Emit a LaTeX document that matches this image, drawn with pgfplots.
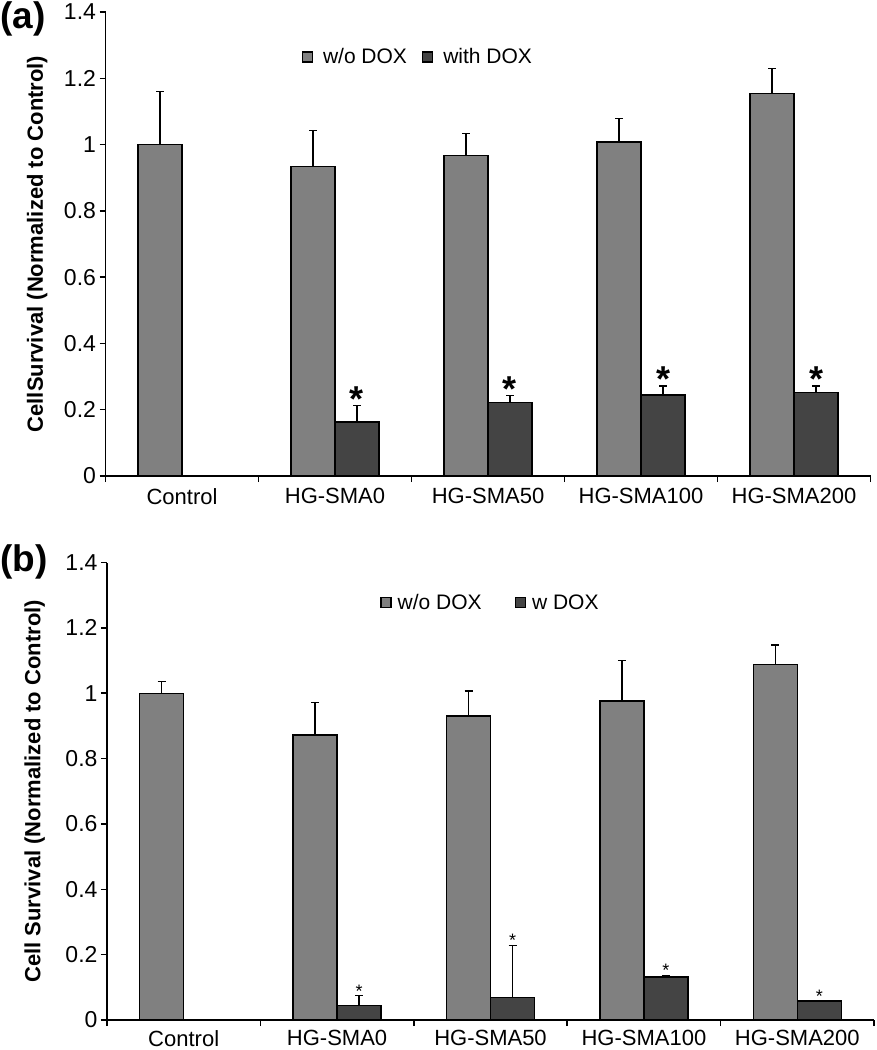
\documentclass[border=0pt]{standalone}
\usepackage{pgfplots}
\pgfplotsset{compat=1.18}
\usepackage{fontspec}
\setmainfont{Liberation Sans}
\definecolor{lightbar}{HTML}{808080}
\definecolor{darkbar}{HTML}{444444}

\pgfplotsset{
  panel/.style={
    scale only axis,
    xmin=-0.5, xmax=4.5, ymin=0, ymax=1.4,
    axis x line*=bottom, axis y line*=left,
    axis line style={-, line width=1.6pt},
    tick align=outside, tick pos=left,
    major tick length=6pt,
    tick style={line width=1.5pt, black},
    ytick={0,0.2,0.4,0.6,0.8,1,1.2,1.4},
    xtick={-0.5,0.5,1.5,2.5,3.5,4.5},
    xticklabels={},
    extra x ticks={0,1,2,3,4},
    extra x tick labels={Control,HG-SMA0,HG-SMA50,HG-SMA100,HG-SMA200},
    tick label style={font=\fontsize{22}{26}\selectfont},
    yticklabel style={font=\fontsize{23}{27}\selectfont},
    /pgf/number format/assume math mode=true,
    ylabel style={font=\bfseries\fontsize{22}{26}\selectfont, anchor=center},
    legend columns=2,
    legend style={draw=none, fill=none, font=\fontsize{21}{25}\selectfont, anchor=center, nodes={inner sep=0pt}},
    legend image code/.code={\draw[#1] (0pt,-5pt) rectangle (10pt,5pt);},
  },
  woDOX/.style={ybar, bar width=44pt, bar shift=-22pt, fill=lightbar, draw=black, line width=1.3pt,
    error bars/.cd, y dir=plus, y explicit,
    error bar style={line width=1.3pt, black, xshift=-22pt},
    error mark options={rotate=90, mark size=4pt, line width=1.3pt, black}},
  wDOX/.style={ybar, bar width=44pt, bar shift=22pt, fill=darkbar, draw=black, line width=1.3pt,
    error bars/.cd, y dir=plus, y explicit,
    error bar style={line width=1.3pt, black, xshift=22pt},
    error mark options={rotate=90, mark size=4pt, line width=1.3pt, black}},
}

\begin{document}
\begin{tikzpicture}
\path[use as bounding box] (0pt,0pt) rectangle (877pt,-1050pt);

% ---------------- panel (a)
\begin{axis}[panel,
  at={(105.5pt,-476pt)}, anchor=south west,
  width=765pt, height=464pt,
  extra x tick style={major tick length=0pt, xticklabel style={yshift=-9pt}},
  ylabel={CellSurvival (Normalized to Control)},
  ylabel style={at={(axis description cs:-0.0893,0.5)}},
  legend style={at={(0.407,0.903)}, /tikz/every odd column/.append style={column sep=10pt}, /tikz/every even column/.append style={column sep=15pt}},
]
\addplot[woDOX] coordinates {
  (0,1.000) +- (0,0.160)
  (1,0.934) +- (0,0.108)
  (2,0.967) +- (0,0.067)
  (3,1.008) +- (0,0.071)
  (4,1.155) +- (0,0.075)
};
\addlegendentry{w/o DOX}
\addplot[wDOX] coordinates {
  (1,0.163) +- (0,0.049)
  (2,0.221) +- (0,0.021)
  (3,0.244) +- (0,0.028)
  (4,0.252) +- (0,0.020)
};
\addlegendentry{with DOX}
\foreach \xx/\yy in {1/0.212,2/0.242,3/0.272,4/0.272}{
  \edef\tmp{\noexpand\node[font=\noexpand\bfseries\noexpand\fontsize{36}{36}\noexpand\selectfont, anchor=base, yshift=-6pt, xshift=22pt] at (axis cs:\xx,\yy) {*};}
  \tmp
}
\end{axis}

% ---------------- panel (b)
\begin{axis}[panel,
  at={(107pt,-1020pt)}, anchor=south west,
  width=767pt, height=457.5pt,
  extra x tick style={major tick length=0pt, xticklabel style={yshift=-7pt}},
  ylabel={Cell Survival (Normalized to Control)},
  ylabel style={at={(axis description cs:-0.0944,0.5)}},
  legend style={at={(0.4987,0.9126)}, /tikz/every odd column/.append style={column sep=6pt}, /tikz/every even column/.append style={column sep=33pt}},
]
\addplot[woDOX] coordinates {
  (0,1.000) +- (0,0.036)
  (1,0.872) +- (0,0.100)
  (2,0.930) +- (0,0.077)
  (3,0.976) +- (0,0.124)
  (4,1.088) +- (0,0.060)
};
\addlegendentry{w/o DOX}
\addplot[wDOX] coordinates {
  (1,0.044) +- (0,0.030)
  (2,0.068) +- (0,0.161)
  (3,0.132) +- (0,0.005)
  (4,0.058) +- (0,0.000)
};
\addlegendentry{w DOX}
\foreach \xx/\yy in {1/0.074,2/0.229,3/0.137,4/0.058}{
  \edef\tmp{\noexpand\node[font=\noexpand\fontsize{18}{18}\noexpand\selectfont, anchor=base, yshift=-1.6pt, xshift=22pt] at (axis cs:\xx,\yy) {*};}
  \tmp
}
\end{axis}

\node[font=\bfseries\fontsize{37}{37}\selectfont] at (23pt,-19pt) {(a)};
\node[font=\bfseries\fontsize{37}{37}\selectfont] at (24pt,-562pt) {(b)};
\end{tikzpicture}
\end{document}
